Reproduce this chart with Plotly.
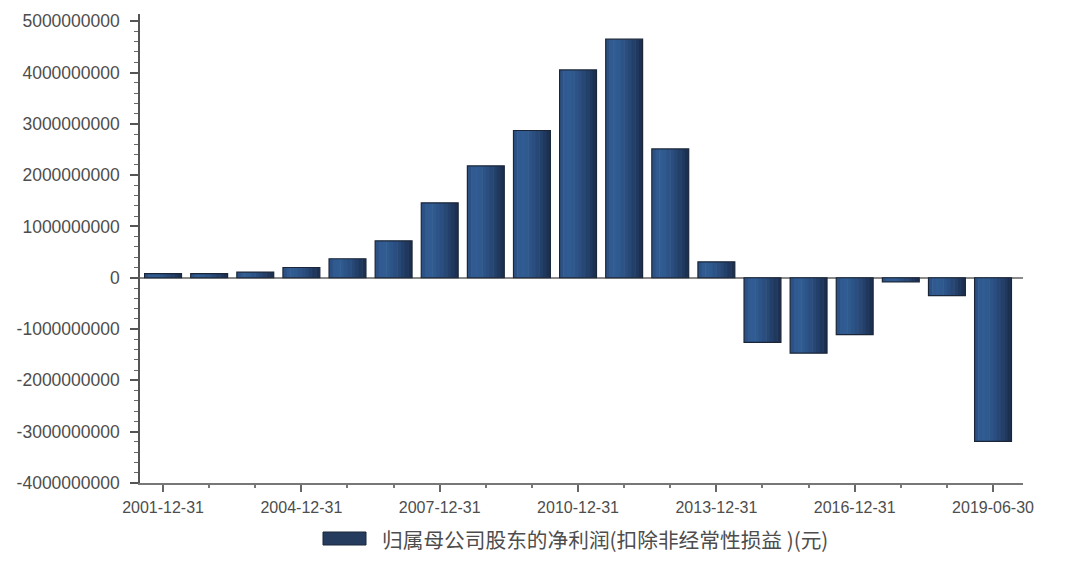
import plotly.graph_objects as go

# ---- data ----
categories = ["2001-12-31", "2002-12-31", "2003-12-31", "2004-12-31", "2005-12-31",
              "2006-12-31", "2007-12-31", "2008-12-31", "2009-12-31", "2010-12-31",
              "2011-12-31", "2012-12-31", "2013-12-31", "2014-12-31", "2015-12-31",
              "2016-12-31", "2017-12-31", "2018-12-31", "2019-06-30"]
values = [0.08e9, 0.08e9, 0.11e9, 0.20e9, 0.37e9,
          0.72e9, 1.46e9, 2.18e9, 2.87e9, 4.05e9,
          4.65e9, 2.51e9, 0.31e9, -1.26e9, -1.47e9,
          -1.11e9, -0.08e9, -0.35e9, -3.19e9]
tick_labels = ["2001-12-31", "2004-12-31", "2007-12-31", "2010-12-31",
               "2013-12-31", "2016-12-31", "2019-06-30"]
series_name = "归属母公司股东的净利润(扣除非经常性损益 )(元)"
y_ticks = [5e9, 4e9, 3e9, 2e9, 1e9, 0, -1e9, -2e9, -3e9, -4e9]

x_pos = list(range(len(categories)))
tick_pos = [x_pos[categories.index(t)] for t in tick_labels]

# page body has an 8px margin; figure geometry compensates for it
W, H = 1064, 566
L, R, T, B = 132, 49, 6, 91
PW, PH = W - L - R, H - T - B


def px(fx):
    return (fx - L) / PW


def py(fy):
    return (H - B - fy) / PH


fig = go.Figure()

# gradient-looking bars built from vertical slices
slice_colors = ["#2c5285", "#305a90", "#315c93", "#2f5a8e", "#2d5488",
                "#2a4e7f", "#274775", "#23406a", "#20385e", "#1c3052"]
n = len(slice_colors)
bar_w = 0.8
sw = bar_w / n
for i, c in enumerate(slice_colors):
    fig.add_trace(go.Bar(
        x=x_pos, y=values, width=sw * 1.15 if i < n - 1 else sw,
        offset=-bar_w / 2 + i * sw,
        marker=dict(color=c, line=dict(width=0)),
        showlegend=False, hoverinfo="skip"))
# outline
fig.add_trace(go.Bar(
    x=x_pos, y=values, width=bar_w, name=series_name,
    customdata=categories,
    hovertemplate="%{customdata}: %{y}<extra></extra>",
    marker=dict(color="rgba(0,0,0,0)", line=dict(color="#1a2638", width=1.2)),
    showlegend=False))

fig.update_layout(
    width=W, height=H,
    barmode="overlay",
    paper_bgcolor="white", plot_bgcolor="white",
    margin=dict(l=L, r=R, t=T, b=B, autoexpand=False),
    font=dict(family="Liberation Sans, Arial, sans-serif", size=16, color="#4d4d4d"),
    showlegend=False,
)
fig.update_xaxes(
    range=[-0.5, 18.65],
    tickmode="array", tickvals=tick_pos, ticktext=tick_labels,
    ticks="outside", ticklen=7, tickcolor="#666", tickwidth=1.5,
    minor=dict(dtick=1, tick0=0, ticks="outside", ticklen=3, tickcolor="#777", tickwidth=1.5),
    showline=True, linecolor="#777", linewidth=1.5,
    showgrid=False, zeroline=False,
    tickfont=dict(size=16, color="#4d4d4d"),
    ticklabelstandoff=2,
)
fig.update_yaxes(
    range=[-4e9, 5.14e9],
    tickmode="array", tickvals=y_ticks, ticktext=[f"{int(v)}" for v in y_ticks],
    ticks="outside", ticklen=8, tickcolor="#555", tickwidth=1.5,
    minor=dict(dtick=2e8, tick0=0, ticks="outside", ticklen=4, tickcolor="#666", tickwidth=1.2),
    showline=True, linecolor="#555", linewidth=1.5,
    showgrid=False, zeroline=True, zerolinecolor="#8a8a8a", zerolinewidth=1.5,
    tickfont=dict(size=17.5, color="#4d4d4d"),
    ticklabelstandoff=7,
)

# custom legend (wide swatch + label)
fig.add_shape(type="rect", xref="paper", yref="paper",
              x0=px(315), x1=px(358), y0=py(537), y1=py(524),
              fillcolor="#253c5e", line=dict(color="#1a2638", width=1))
fig.add_annotation(xref="paper", yref="paper",
                   x=px(372), y=py(530.5),
                   xanchor="left", yanchor="middle", showarrow=False,
                   text=series_name,
                   font=dict(family="Noto Sans CJK SC, sans-serif", size=20.7, color="#4d4d4d"))

fig.write_html("out.html")
